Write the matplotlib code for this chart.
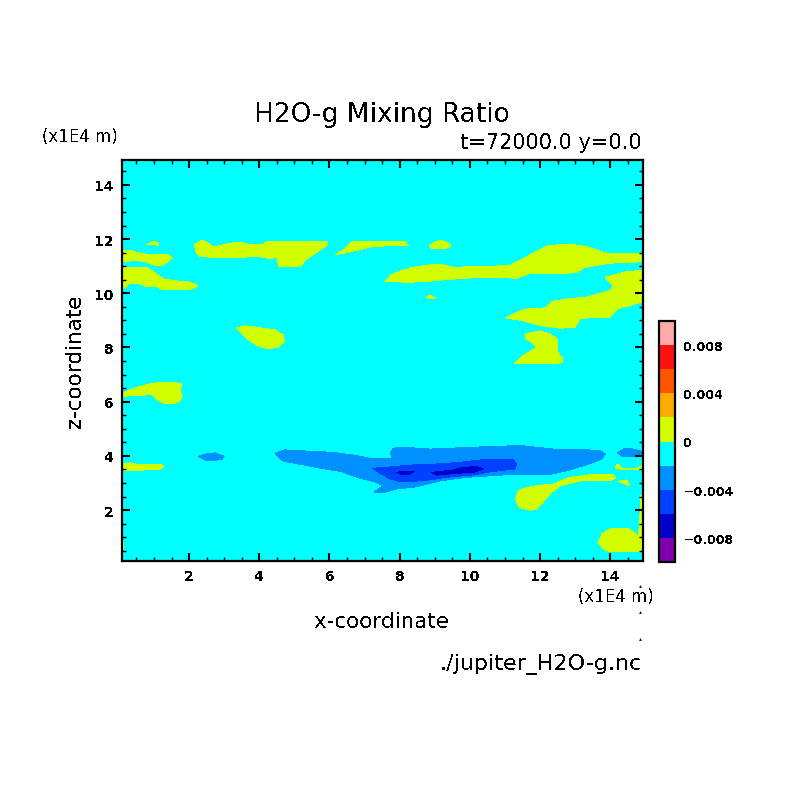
import matplotlib
matplotlib.use('Agg')
import matplotlib.pyplot as plt
from matplotlib.colors import ListedColormap, BoundaryNorm
from matplotlib.cm import ScalarMappable
from matplotlib.lines import Line2D
from matplotlib.ticker import MultipleLocator

# contour levels and colours of the colour bar
levels = [-0.01, -0.008, -0.006, -0.004, -0.002, 0, 0.002, 0.004, 0.006, 0.008, 0.01]
colors = ['#7f00aa', '#0000cc', '#0040ff', '#0090ff', '#00ffff',
          '#d2ff00', '#ffaa00', '#ff5500', '#ff1111', '#ffaaaa']
cbar_ticks = [-0.008, -0.004, 0, 0.004, 0.008]
cbar_labels = ['\u22120.008', '\u22120.004', '0', '0.004', '0.008']

# outlines (x, z in 1E4 m), level 0 to 0.002
pos_a = ([0.80, 1.00, 1.12, 1.12], [11.80, 11.92, 11.85, 11.78])
pos_b = ([0.0, 0.32, 0.60, 0.79, 1.38, 1.52, 1.38, 1.22, 0.98, 0.75, 0.51, 0.0],
         [11.59, 11.59, 11.48, 11.44, 11.44, 11.32, 11.15, 11.02, 11.05, 11.17, 11.21, 11.17])
pos_c = ([0.0, 0.23, 0.79, 0.98, 1.27, 1.70, 2.03, 2.25, 2.08, 1.27, 1.08, 0.79, 0.56, 0.27, 0.18, 0.0],
         [10.90, 10.97, 10.97, 10.80, 10.53, 10.45, 10.41, 10.28, 10.16, 10.13, 10.25, 10.25, 10.35, 10.35, 10.23, 10.06])
pos_d = ([2.15, 2.35, 2.50, 2.69, 3.07, 3.40, 3.79, 4.07, 4.26, 5.92, 5.95, 5.64, 5.35, 5.16, 4.55, 4.50, 4.31, 4.03, 3.45, 2.79, 2.31, 2.20],
         [11.79, 11.95, 11.89, 11.71, 11.82, 11.89, 11.79, 11.79, 11.93, 11.93, 11.79, 11.52, 11.27, 10.99, 10.99, 11.33, 11.27, 11.36, 11.33, 11.31, 11.37, 11.52])
pos_e = ([6.16, 6.44, 6.64, 6.76, 8.15, 8.24, 7.58, 7.16, 6.73],
         [11.42, 11.64, 11.90, 11.93, 11.93, 11.75, 11.75, 11.71, 11.57])
pos_f = ([8.85, 9.01, 9.15, 9.34, 9.46, 9.34, 8.92],
         [11.76, 11.89, 11.95, 11.89, 11.76, 11.67, 11.64])
pos_g = ([7.58, 7.73, 8.01, 8.39, 8.87, 9.24, 9.53, 11.10, 11.43, 11.76, 12.24, 12.81, 13.33, 13.80, 13.99, 15.0,
          15.0, 14.09, 13.52, 13.23, 13.05, 12.76, 11.72, 11.34, 10.29, 9.34, 8.67, 8.30],
         [10.43, 10.65, 10.82, 10.96, 11.05, 11.05, 10.96, 11.02, 11.21, 11.45, 11.76, 11.82, 11.72, 11.52, 11.45, 11.48,
          11.17, 11.12, 11.02, 10.93, 10.78, 10.74, 10.75, 10.56, 10.59, 10.51, 10.43, 10.41])
pos_h = ([8.75, 8.87, 9.01, 8.87], [9.86, 9.92, 9.83, 9.79])
pos_i = ([11.03, 11.34, 11.62, 12.14, 12.33, 12.76, 13.33, 13.99, 14.09, 13.85, 14.47, 15.0,
          15.0, 14.57, 14.19, 13.99, 13.14, 13.00, 12.57, 12.00, 11.52],
         [9.09, 9.30, 9.42, 9.46, 9.69, 9.79, 9.86, 10.10, 10.28, 10.59, 10.80, 10.86,
          9.73, 9.55, 9.42, 9.12, 9.08, 8.75, 8.71, 8.81, 8.99])
pos_j = ([11.57, 12.00, 12.28, 12.48, 12.50, 12.65, 12.65, 11.27, 11.52, 11.91, 11.76, 11.57],
         [8.50, 8.61, 8.50, 8.32, 7.82, 7.58, 7.43, 7.40, 7.70, 8.01, 8.19, 8.34])
pos_k = ([3.34, 3.59, 4.07, 4.45, 4.68, 4.71, 4.54, 4.25, 3.97, 3.74, 3.54],
         [8.72, 8.80, 8.72, 8.65, 8.46, 8.24, 8.02, 7.95, 8.06, 8.24, 8.46])
pos_l = ([0.0, 0.27, 0.51, 0.94, 1.22, 1.79, 1.74, 1.80, 1.74, 1.60, 1.32, 1.08, 0.94, 0.51, 0.0],
         [6.25, 6.41, 6.53, 6.67, 6.72, 6.68, 6.41, 6.22, 6.04, 5.93, 5.93, 6.07, 6.27, 6.22, 6.20])
pos_m = ([0.0, 0.32, 0.51, 1.17, 1.28, 1.22, 0.79, 0.51, 0.0],
         [3.70, 3.74, 3.69, 3.69, 3.62, 3.52, 3.49, 3.45, 3.48])
pos_n = ([0.0, 0.14, 0.14, 0.0], [0.82, 0.82, 0.52, 0.52])
pos_o = ([11.30, 11.38, 11.52, 11.91, 12.38, 12.85, 13.42, 14.09, 14.14, 13.99, 13.14, 12.57, 12.33, 12.09, 12.00, 11.91, 11.72, 11.41],
         [2.41, 2.71, 2.80, 2.90, 2.96, 3.21, 3.30, 3.33, 3.17, 3.08, 3.08, 2.90, 2.66, 2.31, 2.16, 2.04, 1.99, 2.10])
pos_p = ([14.21, 14.47, 14.54, 14.37], [3.06, 3.11, 2.90, 3.00])
pos_q = ([14.14, 14.20, 14.33, 14.75, 15.0, 15.0, 14.14], [3.58, 3.70, 3.54, 3.54, 3.70, 3.49, 3.52])
pos_r = ([14.85, 15.0, 15.0, 14.80, 14.85], [2.53, 2.53, 0.99, 0.99, 1.95])
pos_s = ([13.66, 13.76, 13.99, 14.47, 14.66, 14.80, 15.0, 15.0, 13.99, 13.80],
         [0.81, 1.12, 1.30, 1.33, 1.20, 0.99, 0.99, 0.46, 0.46, 0.56])
level_pos = [pos_a, pos_b, pos_c, pos_d, pos_e, pos_f, pos_g, pos_h, pos_i, pos_j,
             pos_k, pos_l, pos_m, pos_n, pos_o, pos_p, pos_q, pos_r, pos_s]

# level -0.004 to -0.002
neg_a = ([4.45, 4.73, 5.17, 6.07, 6.68, 7.16, 7.78, 7.73, 7.82, 8.10, 8.87, 10.10, 11.43, 12.38, 13.05, 13.71, 13.85, 13.76,
          13.38, 12.76, 12.28, 11.24, 9.91, 9.15, 8.49, 7.92, 7.58, 7.27, 7.52, 7.35, 6.87, 6.30, 5.73, 5.26, 4.69, 4.54],
         [4.11, 4.22, 4.19, 4.13, 4.03, 3.91, 3.91, 4.13, 4.28, 4.32, 4.25, 4.32, 4.38, 4.25, 4.25, 4.19, 4.07, 3.88,
          3.70, 3.45, 3.32, 3.32, 3.21, 3.08, 2.86, 2.78, 2.66, 2.66, 2.90, 3.02, 3.18, 3.43, 3.55, 3.67, 3.80, 3.95])
neg_b = ([2.26, 2.46, 2.74, 3.00, 2.93, 2.50], [3.98, 4.06, 4.11, 3.98, 3.86, 3.82])
neg_c = ([14.20, 14.42, 14.66, 15.0, 15.0, 14.37], [4.11, 4.28, 4.25, 4.13, 3.98, 3.96])
level_neg1 = [neg_a, neg_b, neg_c]

# level -0.006 to -0.004
mid_a = ([7.23, 7.82, 8.30, 9.06, 9.72, 10.38, 11.24, 11.32, 11.29, 10.67, 10.10, 9.34, 8.67, 8.01, 7.73, 7.44],
         [3.54, 3.60, 3.66, 3.70, 3.76, 3.86, 3.86, 3.70, 3.52, 3.43, 3.30, 3.21, 3.08, 3.05, 3.15, 3.36])
level_neg2 = [mid_a]

# level -0.008 to -0.006
low_a = ([7.92, 8.20, 8.41, 8.25, 8.06], [3.39, 3.44, 3.42, 3.32, 3.30])
low_b = ([8.91, 9.53, 9.81, 10.20, 10.38, 10.10, 9.63, 9.06], [3.39, 3.48, 3.58, 3.60, 3.52, 3.39, 3.36, 3.29])
level_neg3 = [low_a, low_b]

plt.rcParams['text.antialiased'] = False
plt.rcParams['lines.antialiased'] = False

W = 804.0
fig = plt.figure(figsize=(8.04, 8.04), dpi=100)


def put(px, py, s, **kw):
    # text placed by pixel position
    fig.text(px / W, 1 - py / W, s, **kw)


ax = fig.add_axes([122 / W, 1 - 562 / W, 521 / W, 401 / W])
ax.set_facecolor(colors[4])
for outlines, c in [(level_pos, colors[5]), (level_neg1, colors[3]),
                    (level_neg2, colors[2]), (level_neg3, colors[1])]:
    for xs, zs in outlines:
        ax.fill(xs, zs, color=c, lw=0, antialiased=False)

ax.set_xlim(0.09, 14.93)
ax.set_ylim(0.12, 14.92)
ax.xaxis.set_major_locator(MultipleLocator(2))
ax.xaxis.set_minor_locator(MultipleLocator(0.5))
ax.yaxis.set_major_locator(MultipleLocator(2))
ax.yaxis.set_minor_locator(MultipleLocator(0.5))
ax.tick_params(which='major', direction='in', length=6, width=1.5, top=True, right=True,
               labelsize=10, pad=6)
ax.tick_params(which='minor', direction='in', length=3, width=1.0, top=True, right=True)
plt.setp(ax.get_xticklabels() + ax.get_yticklabels(), fontweight='bold')
for sp in ax.spines.values():
    sp.set_linewidth(1.6)

put(382, 122, 'H2O-g Mixing Ratio', fontsize=19, ha='center', va='baseline')
put(642, 149, 't=72000.0 y=0.0', fontsize=15, ha='right', va='baseline')
put(80, 142, '(x1E4 m)', fontsize=12, ha='center', va='baseline')
put(616, 602, '(x1E4 m)', fontsize=12, ha='center', va='baseline')
put(382, 628, 'x-coordinate', fontsize=15.5, ha='center', va='baseline')
put(642, 670, './jupiter_H2O-g.nc', fontsize=16, ha='right', va='baseline')
put(81, 361, 'z-coordinate', fontsize=15.5, rotation=90, ha='center', va='baseline', rotation_mode='anchor')

for py in [587, 613, 640]:
    fig.add_artist(Line2D([640 / W], [1 - py / W], marker='^', ms=2, color='k', mew=0, ls=''))

cax = fig.add_axes([659.5 / W, 1 - 563 / W, 15.5 / W, 241 / W])
cb = fig.colorbar(ScalarMappable(norm=BoundaryNorm(levels, len(colors)), cmap=ListedColormap(colors)),
                  cax=cax, spacing='uniform', ticks=cbar_ticks)
cb.ax.set_yticklabels(cbar_labels, fontweight='bold')
cb.ax.tick_params(length=0, labelsize=9, pad=6)
cb.ax.minorticks_off()
cb.outline.set_linewidth(1.6)

fig.savefig('out.png', dpi=100)
